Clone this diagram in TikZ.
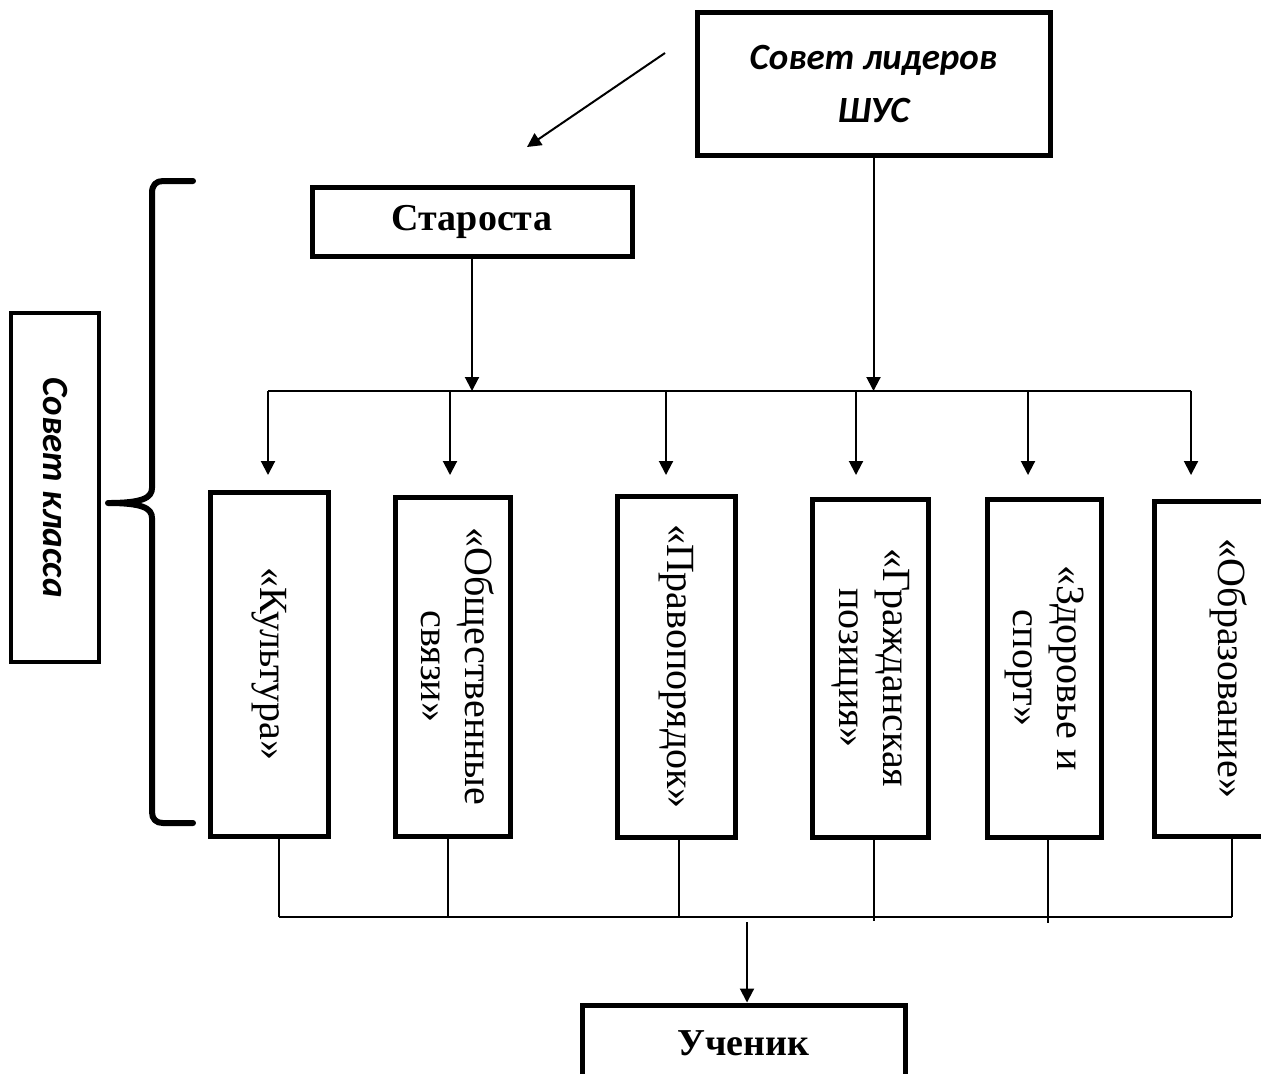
\documentclass[tikz,border=0pt]{standalone}
\usepackage{fontspec}
\usepackage{graphicx}
\setmainfont{Liberation Serif}
\newfontfamily\carl{Carlito}
\usetikzlibrary{arrows.meta,calc}
\tikzset{
  thickbox/.style={draw, line width=2.5pt, inner sep=0pt, align=center},
  arr/.style={line width=1pt, -{Triangle[length=7pt,width=7pt]}},
  conn/.style={line width=0.8pt},
  serif/.style={font=\fontsize{20}{22}\selectfont},
  sbold/.style={font=\bfseries\fontsize{19}{21.5}\selectfont},
  calib/.style={font=\carl\bfseries\itshape\fontsize{18.5}{26.5}\selectfont},
}
\newcommand\vtxt[1]{\rotatebox{-90}{\begin{tabular}{@{}c@{}}#1\end{tabular}}}
\begin{document}
\begin{tikzpicture}[x=0.5pt,y=-0.5pt]
\useasboundingbox (0,0) rectangle (1261,1073);
% top
\node[thickbox, calib, minimum width=176.5pt, minimum height=71.5pt] (lead) at (873.5,83.5) {Совет лидеров\\ШУС};
\node[thickbox, sbold, minimum width=160pt, minimum height=34.5pt] (star) at (472,221.5) {Староста};
% left
\node[thickbox, calib, line width=2.2pt, minimum width=44pt, minimum height=174.5pt] (sk) at (55,487.5) {\rotatebox{-90}{Совет класса}};
% commissions
\node[thickbox, serif, minimum width=59pt, minimum height=172pt] (k1) at (269,664) {\vtxt{«Культура»}};
\node[thickbox, serif, minimum width=57.5pt, minimum height=169.5pt] (k2) at (452.5,666.5) {\vtxt{«Общественные\\связи»}};
\node[thickbox, serif, minimum width=59pt, minimum height=170.5pt] (k3) at (676,666.5) {\vtxt{«Правопорядок»}};
\node[thickbox, serif, minimum width=58pt, minimum height=169pt] (k4) at (870,668) {\vtxt{«Гражданская\\позиция»}};
\node[thickbox, serif, minimum width=57pt, minimum height=169pt] (k5) at (1044,668) {\vtxt{«Здоровье и\\спорт»}};
\node[thickbox, serif, minimum width=73pt, minimum height=167.5pt] (k6) at (1227,668.5) {\vtxt{«Образование»}};
% pupil
\node[thickbox, sbold, minimum width=161.5pt, minimum height=38pt] (uch) at (743.5,1043) {Ученик};
% diagonal arrow
\coordinate (dA) at (665,53);
\coordinate (dB) at (527,147);
\draw[arr] (dA) -- (dB);
% top bus
\coordinate (busL) at (268,391);
\coordinate (busR) at (1191,391);
\draw[line width=1pt] (busL) -- (busR);
\draw[arr] (lead.south) -- (lead.south |- busL);
\draw[arr] (star.south) -- (star.south |- busL);
\foreach \x/\n in {268/1,450/2,666/3,856/4,1028/5,1191/6}{
  \coordinate (t\n) at (\x,391);
  \coordinate (e\n) at (\x,475);
  \draw[arr] (t\n) -- (e\n);
}
% bottom bus
\coordinate (b1) at (279,917);
\coordinate (b2) at (448,917);
\coordinate (b3) at (679,917);
\coordinate (b4) at (874,921);
\coordinate (b5) at (1048,923);
\coordinate (b6) at (1232,917);
\draw[conn] (k1.south -| b1) -- (b1);
\draw[conn] (k2.south -| b2) -- (b2);
\draw[conn] (k3.south -| b3) -- (b3);
\draw[conn] (k4.south -| b4) -- (b4);
\draw[conn] (k5.south -| b5) -- (b5);
\draw[conn] (k6.south -| b6) -- (b6);
\draw[line width=1.1pt] (b1) -- (b6);
\coordinate (d0) at (747,922);
\draw[arr] (d0) -- (d0 |- uch.north);
% brace
\draw[line width=3pt, line cap=round, line join=round]
  (193,181) -- (163,181) .. controls (156,181) and (152,185) .. (152,193)
  -- (152,488) .. controls (152,498) and (142,503) .. (108,503)
  .. controls (142,503) and (152,508) .. (152,518)
  -- (152,812) .. controls (152,819) and (156,823) .. (163,823) -- (193,823);
\end{tikzpicture}
\end{document}
